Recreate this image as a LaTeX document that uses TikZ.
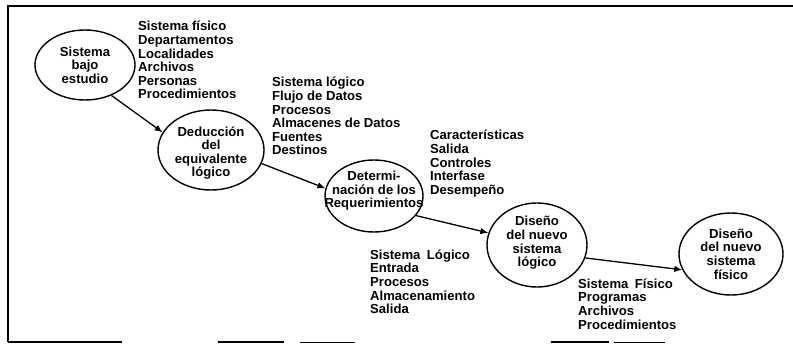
\documentclass[tikz,border=0pt]{standalone}
\usepackage{fontspec}
\setmainfont{Liberation Sans}
\usetikzlibrary{shapes.geometric,arrows.meta}
\tikzset{
  etapa/.style={draw, ellipse, line width=1.4pt, inner sep=0pt},
  texto/.style={align=center, inner sep=0pt, font=\bfseries\fontsize{13.1}{13.6}\selectfont},
  lista/.style={anchor=north west, inner sep=0pt, align=left, font=\bfseries\fontsize{13.1}{13.6}\selectfont},
  flecha/.style={line width=1.3pt, -{Latex[length=8pt,width=6.5pt]}}
}
\begin{document}
\begin{tikzpicture}[x=1pt,y=-1pt]
  \useasboundingbox (0,0) rectangle (793,343);
  \draw[line width=1.5pt] (793,6) -- (8,6) -- (8,342);
  \draw[line width=1.2pt] (8,342) -- (122,342);
  \draw[line width=1.2pt] (218,342) -- (284,342);
  \draw[line width=0.6pt] (300,342) -- (355,342);
  \draw[line width=1.2pt] (551,342) -- (609,342);
  \draw[line width=0.8pt] (614,342) -- (665,342);
  \node[etapa, minimum width=100pt, minimum height=70pt, label={[texto]center:Sistema\\bajo\\estudio}] (e1) at (85,65) {};
  \node[etapa, minimum width=106pt, minimum height=80pt, label={[texto, yshift=-3pt]center:Deducción\\del\\equivalente\\lógico}] (e2) at (211,150) {};
  \node[etapa, minimum width=98pt, minimum height=72pt, label={[texto, yshift=5pt]center:Determi-\\nación de los\\Requerimientos}] (e3) at (374,196) {};
  \node[etapa, minimum width=100pt, minimum height=84pt, label={[texto, yshift=2pt]center:Diseño\\del nuevo\\sistema\\lógico}] (e4) at (537,245) {};
  \node[etapa, minimum width=104pt, minimum height=82pt, label={[texto]center:Diseño\\del nuevo\\sistema\\físico}] (e5) at (731,254) {};
  \draw[flecha] (e1.-49) -- (e2.160);
  \draw[flecha] (e2.-15) -- (e3.171);
  \draw[flecha] (e3.-25) -- (e4.166);
  \draw[flecha] (e4.-15) -- (e5.198);
  \node[lista] (l1) at (138,21) {Sistema físico\\Departamentos\\Localidades\\Archivos\\Personas\\Procedimientos};
  \node[lista] (l2) at (272,77) {Sistema lógico\\Flujo de Datos\\Procesos\\Almacenes de Datos\\Fuentes\\Destinos};
  \node[lista] (l3) at (430,130) {Características\\Salida\\Controles\\Interfase\\Desempeño};
  \node[lista] (l4) at (370,249.5) {Sistema\enspace Lógico\\Entrada\\Procesos\\Almacenamiento\\Salida};
  \node[lista] (l5) at (578,278.5) {Sistema\enspace Físico\\Programas\\Archivos\\Procedimientos};
\end{tikzpicture}
\end{document}
